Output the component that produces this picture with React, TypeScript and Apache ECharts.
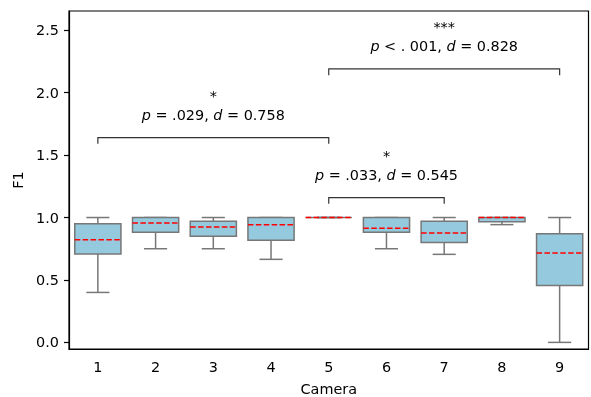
import React, { useEffect, useRef } from 'react';
import * as echarts from 'echarts';

const cameras = ['1', '2', '3', '4', '5', '6', '7', '8', '9'];
const whiskerLow = [0.4, 0.75, 0.75, 0.665, 1.0, 0.75, 0.705, 0.943, 0.0];
const quartile1 = [0.707, 0.882, 0.85, 0.818, 1.0, 0.882, 0.8, 0.967, 0.456];
const medians = [0.821, 0.957, 0.925, 0.943, 1.0, 0.914, 0.877, 1.0, 0.715];
const quartile3 = [0.951, 1.0, 0.97, 1.0, 1.0, 1.0, 0.97, 1.0, 0.871];
const whiskerHigh = [1.0, 1.0, 1.0, 1.0, 1.0, 1.0, 1.0, 1.0, 1.0];

const yTicks = [0, 0.5, 1.0, 1.5, 2.0, 2.5];
const yMin = -0.053;
const yMax = 2.654;

const bracketFrom = ['1', '5', '5'];
const bracketTo = ['5', '7', '9'];
const bracketHeights = [1.64, 1.16, 2.19];
const pLabels = ['= .029', '= .033', '< . 001'];
const dLabels = ['0.758', '0.545', '0.828'];
const stars = ['*', '*', '***'];

const FONT = '"DejaVu Sans", sans-serif';
const FS = 14.4;

export default function App() {
  const ref = useRef<HTMLDivElement>(null);
  useEffect(() => {
    document.body.style.margin = '0';
    const chart = echarts.init(ref.current!, null, { renderer: 'svg' });
    const boxData = cameras.map((_, i) => [i, whiskerLow[i], quartile1[i], medians[i], quartile3[i], whiskerHigh[i]]);
    const annData = bracketFrom.map((f, i) => [cameras.indexOf(f), cameras.indexOf(bracketTo[i]), bracketHeights[i]]);
    const edge = '#777777';
    const option: any = {
      animation: false,
      grid: {
        left: 69, right: 2.5, top: 11, bottom: 48,
        outerBoundsMode: 'none', containLabel: false,
        show: true, borderColor: '#000', borderWidth: 1.2, backgroundColor: 'transparent',
      },
      xAxis: {
        type: 'category',
        data: cameras,
        boundaryGap: true,
        name: 'Camera',
        nameLocation: 'middle',
        nameGap: 33,
        nameTextStyle: { fontFamily: FONT, fontSize: FS, color: '#000' },
        axisLine: { onZero: false, lineStyle: { color: '#000', width: 1.2 } },
        axisTick: { alignWithLabel: true, length: 5, lineStyle: { color: '#000', width: 1.2 } },
        axisLabel: { fontFamily: FONT, fontSize: FS, color: '#000', margin: 11 },
        splitLine: { show: false },
      },
      yAxis: {
        type: 'value',
        min: yMin,
        max: yMax,
        name: 'F1',
        nameLocation: 'middle',
        nameGap: 42,
        nameTextStyle: { fontFamily: FONT, fontSize: FS, color: '#000' },
        axisLine: { show: true, onZero: false, lineStyle: { color: '#000', width: 1.2 } },
        axisTick: { show: true, length: 5, customValues: yTicks, lineStyle: { color: '#000', width: 1.2 } },
        axisLabel: {
          fontFamily: FONT, fontSize: FS, color: '#000', margin: 10,
          customValues: yTicks,
          formatter: (v: number) => v.toFixed(1),
        },
        splitLine: { show: false },
      },
      series: [
        {
          type: 'custom',
          data: boxData,
          encode: { x: 0, y: [1, 2, 3, 4, 5] },
          renderItem: (params: any, api: any) => {
            const x = api.value(0);
            const lo = api.coord([x, api.value(1)]);
            const q1 = api.coord([x, api.value(2)]);
            const md = api.coord([x, api.value(3)]);
            const q3 = api.coord([x, api.value(4)]);
            const hi = api.coord([x, api.value(5)]);
            const bw = api.size([1, 0])[0] * 0.8;
            const cx = lo[0];
            const ls = { stroke: edge, lineWidth: 1.5, fill: null };
            return {
              type: 'group',
              children: [
                { type: 'line', shape: { x1: cx, y1: q1[1], x2: cx, y2: lo[1] }, style: ls },
                { type: 'line', shape: { x1: cx, y1: q3[1], x2: cx, y2: hi[1] }, style: ls },
                { type: 'line', shape: { x1: cx - bw / 4, y1: lo[1], x2: cx + bw / 4, y2: lo[1] }, style: ls },
                { type: 'line', shape: { x1: cx - bw / 4, y1: hi[1], x2: cx + bw / 4, y2: hi[1] }, style: ls },
                {
                  type: 'rect',
                  shape: { x: cx - bw / 2, y: q3[1], width: bw, height: q1[1] - q3[1] },
                  style: { fill: '#95c9de', stroke: edge, lineWidth: 1.5 },
                },
                {
                  type: 'line',
                  shape: { x1: cx - bw / 2, y1: md[1], x2: cx + bw / 2, y2: md[1] },
                  style: { stroke: '#ff0000', lineWidth: 1.5, lineDash: [5.5, 2.4], fill: null },
                },
              ],
            };
          },
          z: 2,
        },
        {
          type: 'custom',
          data: annData,
          encode: { x: [0, 1], y: 2 },
          clip: false,
          renderItem: (params: any, api: any) => {
            const i = params.dataIndex;
            const h = api.value(2);
            const a = api.coord([api.value(0), h]);
            const b = api.coord([api.value(1), h]);
            const drop = api.coord([api.value(0), h - 0.05])[1];
            const textY = api.coord([api.value(0), h + 0.18])[1];
            const starY = api.coord([api.value(0), h + 0.36])[1] + 3;
            const cx = (a[0] + b[0]) / 2;
            return {
              type: 'group',
              children: [
                {
                  type: 'polyline',
                  shape: { points: [[a[0], drop], [a[0], a[1]], [b[0], b[1]], [b[0], drop]] },
                  style: { stroke: '#333', lineWidth: 1.2, fill: null },
                },
                {
                  type: 'text',
                  x: cx,
                  y: textY,
                  style: {
                    text: '{i|p} ' + pLabels[i] + ', {i|d} = ' + dLabels[i],
                    fill: '#000',
                    fontFamily: FONT,
                    fontSize: FS,
                    align: 'center',
                    verticalAlign: 'middle',
                    rich: { i: { fontStyle: 'italic', fontFamily: FONT, fontSize: FS, fill: '#000' } },
                  },
                },
                {
                  type: 'text',
                  x: cx,
                  y: starY,
                  style: {
                    text: stars[i],
                    fill: '#000',
                    fontFamily: FONT,
                    fontSize: FS,
                    align: 'center',
                    verticalAlign: 'middle',
                  },
                },
              ],
            };
          },
          z: 3,
        },
      ],
    };
    chart.setOption(option);
    return () => chart.dispose();
  }, []);
  return <div ref={ref} style={{ width: 591, height: 397, position: 'fixed', left: 0, top: 0 }} />;
}
